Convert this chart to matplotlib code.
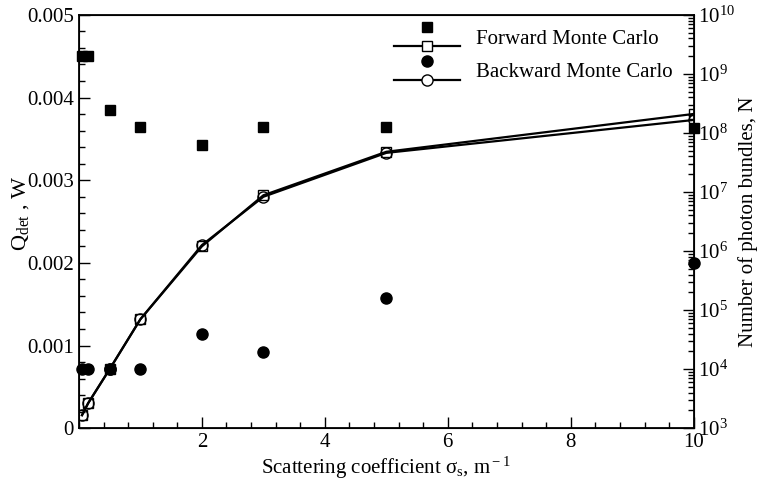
import numpy as np
import matplotlib.pyplot as plt
from matplotlib.lines import Line2D
from matplotlib.legend_handler import HandlerBase
from matplotlib.ticker import MultipleLocator, LogLocator, FixedLocator

plt.rcParams['font.family'] = 'Liberation Serif'
plt.rcParams['mathtext.fontset'] = 'custom'
plt.rcParams['mathtext.rm'] = 'Liberation Serif'
plt.rcParams['mathtext.it'] = 'Liberation Serif:italic'
plt.rcParams['font.size'] = 13.5

# scattering coefficient, 1/m
sigma_s = [0.05, 0.15, 0.5, 1, 2, 3, 5, 10]

# detected heat (left axis), W
q_forward = [0.0045, 0.0045, 0.00385, 0.00364, 0.00342, 0.00364, 0.00364, 0.00363]
q_backward = [0.00071, 0.00071, 0.00071, 0.00071, 0.00114, 0.00092, 0.00157, 0.00200]

# number of photon bundles (right axis)
n_forward = [1.66e3, 2.65e3, 1.0e4, 7.0e4, 1.2e6, 8.8e6, 4.8e7, 2.1e8]
n_backward = [1.66e3, 2.65e3, 1.0e4, 7.0e4, 1.26e6, 8.3e6, 4.6e7, 1.66e8]


class StackedHandler(HandlerBase):
    # filled marker on top, line with open marker below
    def create_artists(self, legend, orig_handle, xdescent, ydescent,
                       width, height, fontsize, trans):
        pts, line = orig_handle
        xm = width / 2 - xdescent
        y_top = height * 0.92 - ydescent
        y_low = height * 0.08 - ydescent
        top = Line2D([xm], [y_top], linestyle='none', marker=pts.get_marker(),
                     markersize=pts.get_markersize(), color='black')
        low = Line2D([-xdescent, width - xdescent], [y_low, y_low],
                     color='black', lw=line.get_linewidth())
        lowm = Line2D([xm], [y_low], linestyle='none', marker=line.get_marker(),
                      markersize=line.get_markersize(), mfc='white',
                      mec='black', mew=1.0)
        for a in (top, low, lowm):
            a.set_transform(trans)
        return [top, low, lowm]


fig = plt.figure(figsize=(7.59, 4.8), dpi=100)
ax = fig.add_axes([0.104, 0.108, 0.81, 0.861])
ax2 = ax.twinx()

# lines with open markers: number of bundles
l_f, = ax2.plot(sigma_s, n_forward, '-', color='black', lw=1.6,
                marker='s', markersize=7, mfc='none', mec='black', mew=1.0)
l_b, = ax2.plot(sigma_s, n_backward, '-', color='black', lw=1.6,
                marker='o', markersize=8, mfc='none', mec='black', mew=1.0)

# filled markers: detected heat
p_f, = ax.plot(sigma_s, q_forward, 's', color='black', markersize=7,
               clip_on=False)
p_b, = ax.plot(sigma_s, q_backward, 'o', color='black', markersize=8,
               clip_on=False)

ax.set_zorder(ax2.get_zorder() + 1)
ax.patch.set_visible(False)

ax.set_xlim(0, 10)
ax.set_ylim(0, 0.005)
ax2.set_yscale('log')
ax2.set_ylim(1e3, 1e10)

ax.xaxis.set_major_locator(FixedLocator([2, 4, 6, 8, 10]))
ax.xaxis.set_minor_locator(MultipleLocator(0.4))
ax.set_yticks([0, 0.001, 0.002, 0.003, 0.004, 0.005])
ax.set_yticklabels(['0', '0.001', '0.002', '0.003', '0.004', '0.005'])
ax.yaxis.set_minor_locator(MultipleLocator(0.0002))
ax2.yaxis.set_major_locator(LogLocator(base=10, numticks=20))
ax2.yaxis.set_minor_locator(LogLocator(base=10, subs=np.arange(2, 10), numticks=20))

ax.tick_params(axis='both', which='major', direction='in', length=8, width=1,
               top=False, right=False, labelsize=15)
ax.tick_params(axis='both', which='minor', direction='in', length=4, width=1,
               top=False, right=False)
ax2.tick_params(axis='y', which='major', direction='in', length=8, width=1,
                labelsize=15, pad=3)
ax2.tick_params(axis='y', which='minor', direction='in', length=4, width=1)

for sp in ax.spines.values():
    sp.set_linewidth(1.3)

ax.set_xlabel('Scattering coefficient σ$_{\\rm s}$, m$^{\\rm -1}$', fontsize=15, labelpad=2)
ax.set_ylabel(r'Q$_{\rm det}$ , W', fontsize=16)
ax.yaxis.set_label_coords(-0.078, 0.52)
ax2.set_ylabel('Number of photon bundles, N', fontsize=15)
ax2.yaxis.set_label_coords(1.072, 0.5)

ax.legend([(p_f, l_f), (p_b, l_b)], ['Forward Monte Carlo', 'Backward Monte Carlo'],
          handler_map={tuple: StackedHandler()}, loc='upper left',
          bbox_to_anchor=(0.496, 1.0), frameon=False, borderpad=0,
          handlelength=3.15, handleheight=1.3, handletextpad=0.75,
          labelspacing=0.5, fontsize=15)

fig.savefig('out.png', dpi=100)
